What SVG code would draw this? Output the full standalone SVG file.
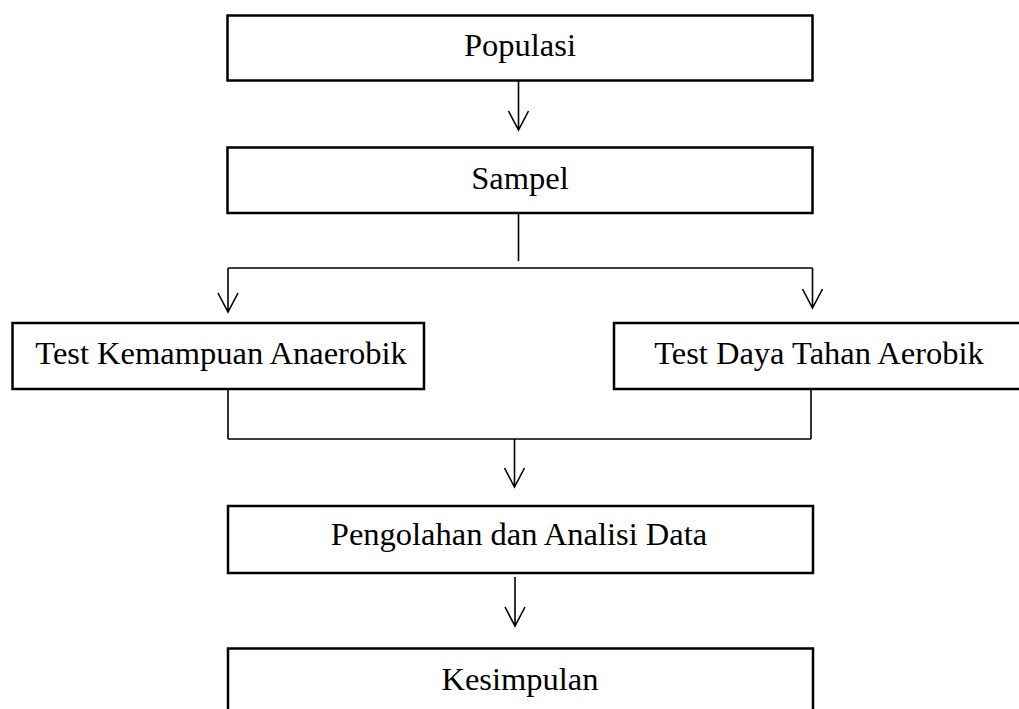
<svg xmlns="http://www.w3.org/2000/svg" width="1019" height="709" viewBox="0 0 1019 709">
<style>
.box{fill:#fff;stroke:#000;stroke-width:2.5}
.lbl{font-family:"Liberation Serif","Times New Roman",serif;font-size:32.5px;fill:#000;text-anchor:middle}
.c{fill:none;stroke:#000;stroke-width:1.6}
</style>
<rect width="1019" height="709" fill="#fff"/>
<g id="populasi"><rect class="box" x="227.5" y="15.5" width="585" height="65"/><text class="lbl" x="520" y="55.5">Populasi</text></g>
<g id="sampel"><rect class="box" x="227.5" y="147.5" width="585" height="65.5"/><text class="lbl" x="520" y="188.5">Sampel</text></g>
<g id="anaerobik"><rect class="box" x="12.5" y="323" width="411.5" height="66"/><text class="lbl" x="221" y="363.5">Test Kemampuan Anaerobik</text></g>
<g id="aerobik"><rect class="box" x="614" y="323" width="420" height="66"/><text class="lbl" x="819" y="363.5">Test Daya Tahan Aerobik</text></g>
<g id="pengolahan"><rect class="box" x="228" y="506" width="585" height="67"/><text class="lbl" x="519" y="545">Pengolahan dan Analisi Data</text></g>
<g id="kesimpulan"><rect class="box" x="228" y="648.5" width="585" height="75"/><text class="lbl" x="520" y="689.5">Kesimpulan</text></g>
<g id="connectors">
<path class="c" d="M518.5 81V130M508.5 111L518.5 130L528.5 111"/>
<path class="c" d="M518.5 213V261"/>
<path class="c" d="M228 268H812.5"/>
<path class="c" d="M228 268V312M218 293L228 312L238 293"/>
<path class="c" d="M812.5 268V308M802.5 289L812.5 308L822.5 289"/>
<path class="c" d="M228 389V439M811 389V439M228 439H811"/>
<path class="c" d="M514.5 439V487M504.5 468L514.5 487L524.5 468"/>
<path class="c" d="M515 577V626M505 607L515 626L525 607"/>
</g>
</svg>
